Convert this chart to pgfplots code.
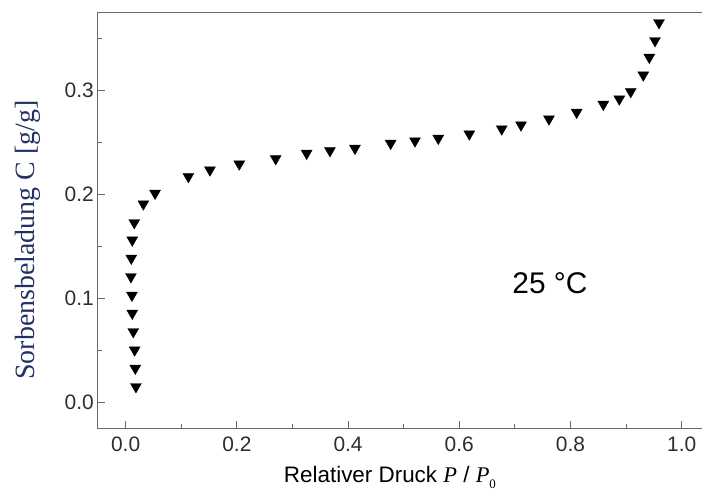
\documentclass[border=0pt]{standalone}
\usepackage{fontspec}
\setmainfont{Liberation Sans}
\newfontfamily\timesf{Liberation Serif}
\usepackage{pgfplots}
\pgfplotsset{compat=1.18}
\definecolor{spine}{RGB}{105,105,105}
\definecolor{ticklab}{RGB}{45,45,45}
\definecolor{ylab}{RGB}{35,50,100}
\begin{document}
\begin{tikzpicture}
\path[use as bounding box] (-97.3bp,-68.3bp) rectangle (604.7bp,428.7bp);
\begin{axis}[
  scale only axis, width=604.7bp, height=416.4bp,
  xmin=-0.051, xmax=1.0365, ymin=-0.0254, ymax=0.375,
  axis lines=left, axis line style={-, spine, line width=1.3bp},
  tick align=inside,
  xtick={0,0.2,0.4,0.6,0.8,1.0}, ytick={0,0.1,0.2,0.3},
  minor xtick={0.1,0.3,0.5,0.7,0.9}, minor ytick={0.05,0.15,0.25,0.35},
  major tick length=8bp, minor tick length=5bp,
  tick style={spine, line width=1bp},
  /pgf/number format/assume math mode=true,
  /pgf/number format/.cd, fixed, fixed zerofill, precision=1, /pgfplots/.cd,
  xticklabel style={font=\fontsize{21}{21}\selectfont, text=ticklab, yshift=-5bp},
  yticklabel style={font=\fontsize{21}{21}\selectfont, text=ticklab, xshift=0bp},
  xlabel={Relativer Druck {\timesf\itshape P} / {\timesf\itshape P}\raisebox{-6bp}{\fontsize{13}{13}\timesf 0}},
  xlabel style={font=\fontsize{22.5}{22.5}\selectfont, at={(axis description cs:0.484,0)}, anchor=base, yshift=-54bp},
  ylabel={Sorbensbeladung C [g/g]},
  ylabel style={font=\fontsize{28}{28}\timesf, text=ylab, at={(axis description cs:-0.1146,0.453)}, anchor=center},
]
\addplot[only marks, mark=triangle*, mark size=6.3bp, mark options={rotate=180, fill=black, draw=black, line width=0.4bp}] coordinates {
(0.0185,0.0150) (0.0173,0.0327) (0.0162,0.0503) (0.0137,0.0679) (0.0119,0.0856)
(0.0113,0.1029) (0.0095,0.1208) (0.0101,0.1385) (0.0119,0.1560) (0.0155,0.1727)
(0.0318,0.1907) (0.0529,0.2010) (0.1128,0.2170) (0.1516,0.2234) (0.2043,0.2291)
(0.2698,0.2342) (0.3255,0.2394) (0.3674,0.2419) (0.4124,0.2442) (0.4766,0.2490)
(0.5203,0.2513) (0.5622,0.2538) (0.6180,0.2580) (0.6763,0.2628) (0.7110,0.2666)
(0.7613,0.2724) (0.8111,0.2788) (0.8590,0.2865) (0.8878,0.2916) (0.9083,0.2987)
(0.9309,0.3147) (0.9417,0.3317) (0.9520,0.3477) (0.9592,0.3650)
};
\draw[spine, line width=1.3bp] (rel axis cs:0,1) -- (rel axis cs:1,1);
\node[font=\fontsize{30}{30}\selectfont, text=black] at (axis cs:0.763,0.1144) {25 °C};
\end{axis}
\end{tikzpicture}
\end{document}
